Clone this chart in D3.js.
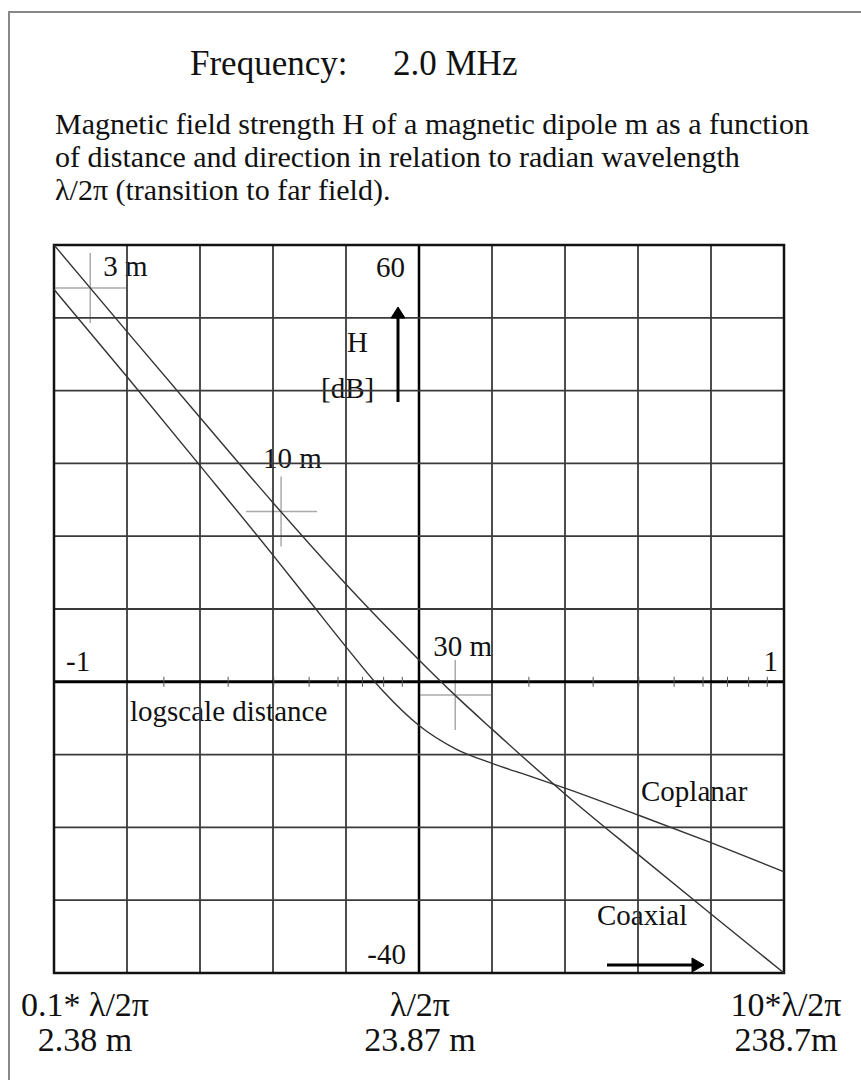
<!DOCTYPE html>
<html>
<head>
<meta charset="utf-8">
<script src="https://cdn.jsdelivr.net/npm/d3@7"></script>
<style>
  body { margin: 0; background: #fff; }
  svg text { font-family: "Liberation Serif", "Times New Roman", serif; fill: #111; }
</style>
</head>
<body>
<div id="chart"></div>
<script>
// log10 of distance relative to radian wavelength (lambda / 2pi)
const coaxialLog = [-1, -0.8, -0.6, -0.4, -0.2, -0.1, 0, 0.1, 0.2, 0.4, 0.6, 0.8, 1];
const coaxialDb = [60, 48.1, 36.3, 24.6, 13.4, 8.1, 3.0, -1.9, -6.5, -15.4, -23.7, -31.9, -40];

const coplanarLog = [-1, -0.8, -0.6, -0.4, -0.3, -0.2, -0.1, 0, 0.1, 0.2, 0.3, 0.4, 0.6, 0.8, 1];
const coplanarDb = [53.9, 41.9, 29.7, 17.4, 11.1, 4.8, -1.2, -6.0, -9.2, -11.2, -12.9, -14.6, -18.3, -22.1, -26.1];

// distance markers on the coaxial curve
const radianWavelength = 23.87; // m at 2.0 MHz
const markerDist = [3, 10, 30];
const markerDb = [54.1, 23.4, -1.8];
const markerLabels = ["3 m", "10 m", "30 m"];

const bottomLabels = [
  { top: "0.1* \u03bb/2\u03c0", bottom: "2.38 m" },
  { top: "\u03bb/2\u03c0", bottom: "23.87 m" },
  { top: "10*\u03bb/2\u03c0", bottom: "238.7m" },
];

const config = {
  width: 861,
  height: 1080,
  plot: { left: 54, right: 784, top: 245, bottom: 973 },
};

const svg = d3
  .select("#chart")
  .append("svg")
  .attr("width", config.width)
  .attr("height", config.height);

// outer frame
svg
  .append("rect")
  .attr("x", 9)
  .attr("y", 12)
  .attr("width", 900)
  .attr("height", 1100)
  .attr("fill", "none")
  .attr("stroke", "#888")
  .attr("stroke-width", 2);

// Header text
svg.append("text").attr("x", 190).attr("y", 75).style("font-size", "35px").text("Frequency:");
svg.append("text").attr("x", 393).attr("y", 75).style("font-size", "35px").text("2.0 MHz");

const desc = [
  "Magnetic field strength H of a magnetic dipole m as a function",
  "of distance and direction in relation to radian wavelength",
  "\u03bb/2\u03c0 (transition to far field).",
];
svg
  .selectAll("text.desc")
  .data(desc)
  .join("text")
  .attr("class", "desc")
  .attr("x", 55)
  .attr("y", (d, i) => 134 + i * 33)
  .style("font-size", "30px")
  .text((d) => d);

const p = config.plot;
const x = d3.scaleLinear().domain([-1, 1]).range([p.left, p.right]);
const y = d3.scaleLinear().domain([-40, 60]).range([p.bottom, p.top]);

const g = svg.append("g");

// labels inside the plot (drawn under the grid)
const inner = g.append("g").style("font-size", "29px");
inner.append("text").attr("x", 405).attr("y", 277).attr("text-anchor", "end").text("60");
inner.append("text").attr("x", 406).attr("y", 964).attr("text-anchor", "end").text("-40");
inner.append("text").attr("x", 347).attr("y", 352).text("H");
inner.append("text").attr("x", 321).attr("y", 398).text("[dB]");
inner.append("text").attr("x", 66).attr("y", 671).text("-1");
inner.append("text").attr("x", 778).attr("y", 671).attr("text-anchor", "end").text("1");
inner.append("text").attr("x", 130).attr("y", 721).text("logscale distance");
inner.append("text").attr("x", 641).attr("y", 801).text("Coplanar");
inner.append("text").attr("x", 597).attr("y", 925).text("Coaxial");

// marker labels, offsets relative to crosshair centre
const labelOffset = [
  [13, -12],
  [-18, -43],
  [-22, -39],
];
inner
  .selectAll("text.marker")
  .data(markerLabels)
  .join("text")
  .attr("class", "marker")
  .attr("x", (d, i) => x(Math.log10(markerDist[i] / radianWavelength)) + labelOffset[i][0])
  .attr("y", (d, i) => y(markerDb[i]) + labelOffset[i][1])
  .text((d) => d);

// crosshairs
const cross = g.append("g").attr("stroke", "#aaa").attr("stroke-width", 1.5);
markerDist.forEach((dist, i) => {
  const cx = x(Math.log10(dist / radianWavelength));
  const cy = y(markerDb[i]);
  cross.append("line").attr("x1", Math.max(p.left, cx - 35)).attr("x2", cx + 36).attr("y1", cy).attr("y2", cy);
  cross.append("line").attr("x1", cx).attr("x2", cx).attr("y1", cy - 35).attr("y2", cy + 35);
});

// grid
const xGrid = d3.range(-1, 1.0001, 0.2);
const yGrid = d3.range(-40, 60.001, 10);
g.append("g")
  .selectAll("line")
  .data(xGrid)
  .join("line")
  .attr("x1", (d) => x(d))
  .attr("x2", (d) => x(d))
  .attr("y1", p.top)
  .attr("y2", p.bottom)
  .attr("stroke", (d) => (Math.abs(d) < 1e-6 ? "#000" : "#3a3a3a"))
  .attr("stroke-width", (d) => (Math.abs(d) < 1e-6 ? 2.5 : 1.8));
g.append("g")
  .selectAll("line")
  .data(yGrid)
  .join("line")
  .attr("x1", p.left)
  .attr("x2", p.right)
  .attr("y1", (d) => y(d))
  .attr("y2", (d) => y(d))
  .attr("stroke", (d) => (d === 0 ? "#000" : "#3a3a3a"))
  .attr("stroke-width", (d) => (d === 0 ? 3 : 1.8));

g.append("rect")
  .attr("x", p.left)
  .attr("y", p.top)
  .attr("width", p.right - p.left)
  .attr("height", p.bottom - p.top)
  .attr("fill", "none")
  .attr("stroke", "#111")
  .attr("stroke-width", 2.5);

// log minor ticks on the distance axis
const minorTicks = [];
[-1, 0].forEach((dec) => {
  for (let k = 2; k <= 9; k++) minorTicks.push(dec + Math.log10(k));
});
g.append("g")
  .selectAll("line")
  .data(minorTicks)
  .join("line")
  .attr("x1", (d) => x(d))
  .attr("x2", (d) => x(d))
  .attr("y1", y(0) - 5)
  .attr("y2", y(0) + 5)
  .attr("stroke", "#555")
  .attr("stroke-width", 1);

// curves
const line = d3
  .line()
  .x((d) => x(d[0]))
  .y((d) => y(d[1]))
  .curve(d3.curveMonotoneX);

const series = [
  { name: "Coaxial", pts: d3.zip(coaxialLog, coaxialDb) },
  { name: "Coplanar", pts: d3.zip(coplanarLog, coplanarDb) },
];
g.selectAll("path.curve")
  .data(series)
  .join("path")
  .attr("class", "curve")
  .attr("d", (d) => line(d.pts))
  .attr("fill", "none")
  .attr("stroke", "#333")
  .attr("stroke-width", 1.4);

// arrows
const arrow = g.append("g").attr("fill", "#000").attr("stroke", "#000");
arrow.append("line").attr("x1", 398).attr("x2", 398).attr("y1", 402).attr("y2", 316).attr("stroke-width", 3);
arrow.append("path").attr("d", "M391,318 L398,307 L405,318 Z");
arrow.append("line").attr("x1", 607).attr("x2", 694).attr("y1", 965).attr("y2", 965).attr("stroke-width", 3);
arrow.append("path").attr("d", "M692,958 L704,965 L692,972 Z");

// bottom labels
const bx = [85, 420, 786];
const bottom = svg.append("g").style("font-size", "34px").attr("text-anchor", "middle");
bottom
  .selectAll("text.top")
  .data(bottomLabels)
  .join("text")
  .attr("class", "top")
  .attr("x", (d, i) => bx[i])
  .attr("y", 1016)
  .text((d) => d.top);
bottom
  .selectAll("text.bot")
  .data(bottomLabels)
  .join("text")
  .attr("class", "bot")
  .attr("x", (d, i) => bx[i])
  .attr("y", 1051)
  .text((d) => d.bottom);
</script>
</body>
</html>
